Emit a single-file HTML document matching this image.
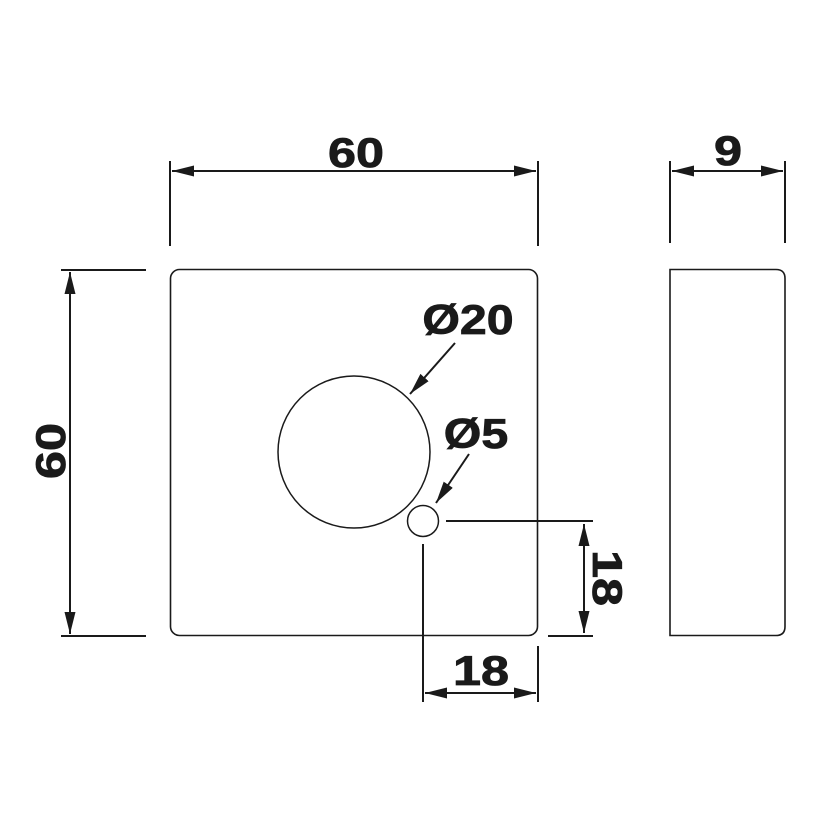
<!DOCTYPE html>
<html><head><meta charset="utf-8"><style>
html,body{margin:0;padding:0;background:#fff}
svg{display:block}
text{font-family:"Liberation Sans","DejaVu Sans",sans-serif;font-weight:bold;fill:#1a1a1a;stroke:#1a1a1a;stroke-width:0.8;font-size:42px;text-anchor:middle}
</style></head><body>
<svg width="830" height="830" viewBox="0 0 830 830" xmlns="http://www.w3.org/2000/svg">
<defs>
<marker id="a" viewBox="0 0 22 11" refX="22" refY="5.5" markerWidth="22" markerHeight="11" markerUnits="userSpaceOnUse" orient="auto-start-reverse">
<path d="M0,0 L22,5.5 L0,11 z" fill="#1a1a1a"/></marker>
</defs>
<g stroke="#1a1a1a" fill="none">
<rect x="170.5" y="269.5" width="367" height="366" rx="9" stroke-width="1.6"/>
<path d="M670,269.5 H776 Q785,269.5 785,278.5 V626.5 Q785,635.5 776,635.5 H670 Z" stroke-width="1.6"/>
<circle cx="354" cy="452" r="76" stroke-width="1.5"/>
<circle cx="423" cy="521" r="15.5" stroke-width="1.5"/>
<g stroke-width="2">
<line x1="170" y1="161" x2="170" y2="246"/>
<line x1="538" y1="161" x2="538" y2="246"/>
<line x1="172" y1="171" x2="536" y2="171" marker-start="url(#a)" marker-end="url(#a)"/>
<line x1="670" y1="161" x2="670" y2="243"/>
<line x1="785" y1="161" x2="785" y2="243"/>
<line x1="672" y1="171" x2="783" y2="171" marker-start="url(#a)" marker-end="url(#a)"/>
<line x1="61" y1="270" x2="146" y2="270"/>
<line x1="61" y1="636" x2="146" y2="636"/>
<line x1="70" y1="272" x2="70" y2="634" marker-start="url(#a)" marker-end="url(#a)"/>
<line x1="446" y1="521" x2="593" y2="521"/>
<line x1="548" y1="636" x2="593" y2="636"/>
<line x1="584" y1="524" x2="584" y2="633" marker-start="url(#a)" marker-end="url(#a)"/>
<line x1="423" y1="544" x2="423" y2="702"/>
<line x1="538" y1="646" x2="538" y2="702"/>
<line x1="425" y1="693" x2="536" y2="693" marker-start="url(#a)" marker-end="url(#a)"/>
<line x1="455" y1="343" x2="410" y2="394" marker-end="url(#a)"/>
<line x1="469" y1="454" x2="436" y2="503" marker-end="url(#a)"/>
</g>
</g>
<text transform="translate(356,167) scale(1.2,1)">60</text>
<text transform="translate(728,165) scale(1.2,1)">9</text>
<text transform="translate(65,451) rotate(-90) scale(1.2,1)">60</text>
<text transform="translate(468,334) scale(1.15,1)">Ø20</text>
<text transform="translate(476,448) scale(1.15,1)">Ø5</text>
<text transform="translate(481,685) scale(1.2,1)">18</text>
<text transform="translate(593,578) rotate(90) scale(1.2,1)">18</text>
</svg>
</body></html>
